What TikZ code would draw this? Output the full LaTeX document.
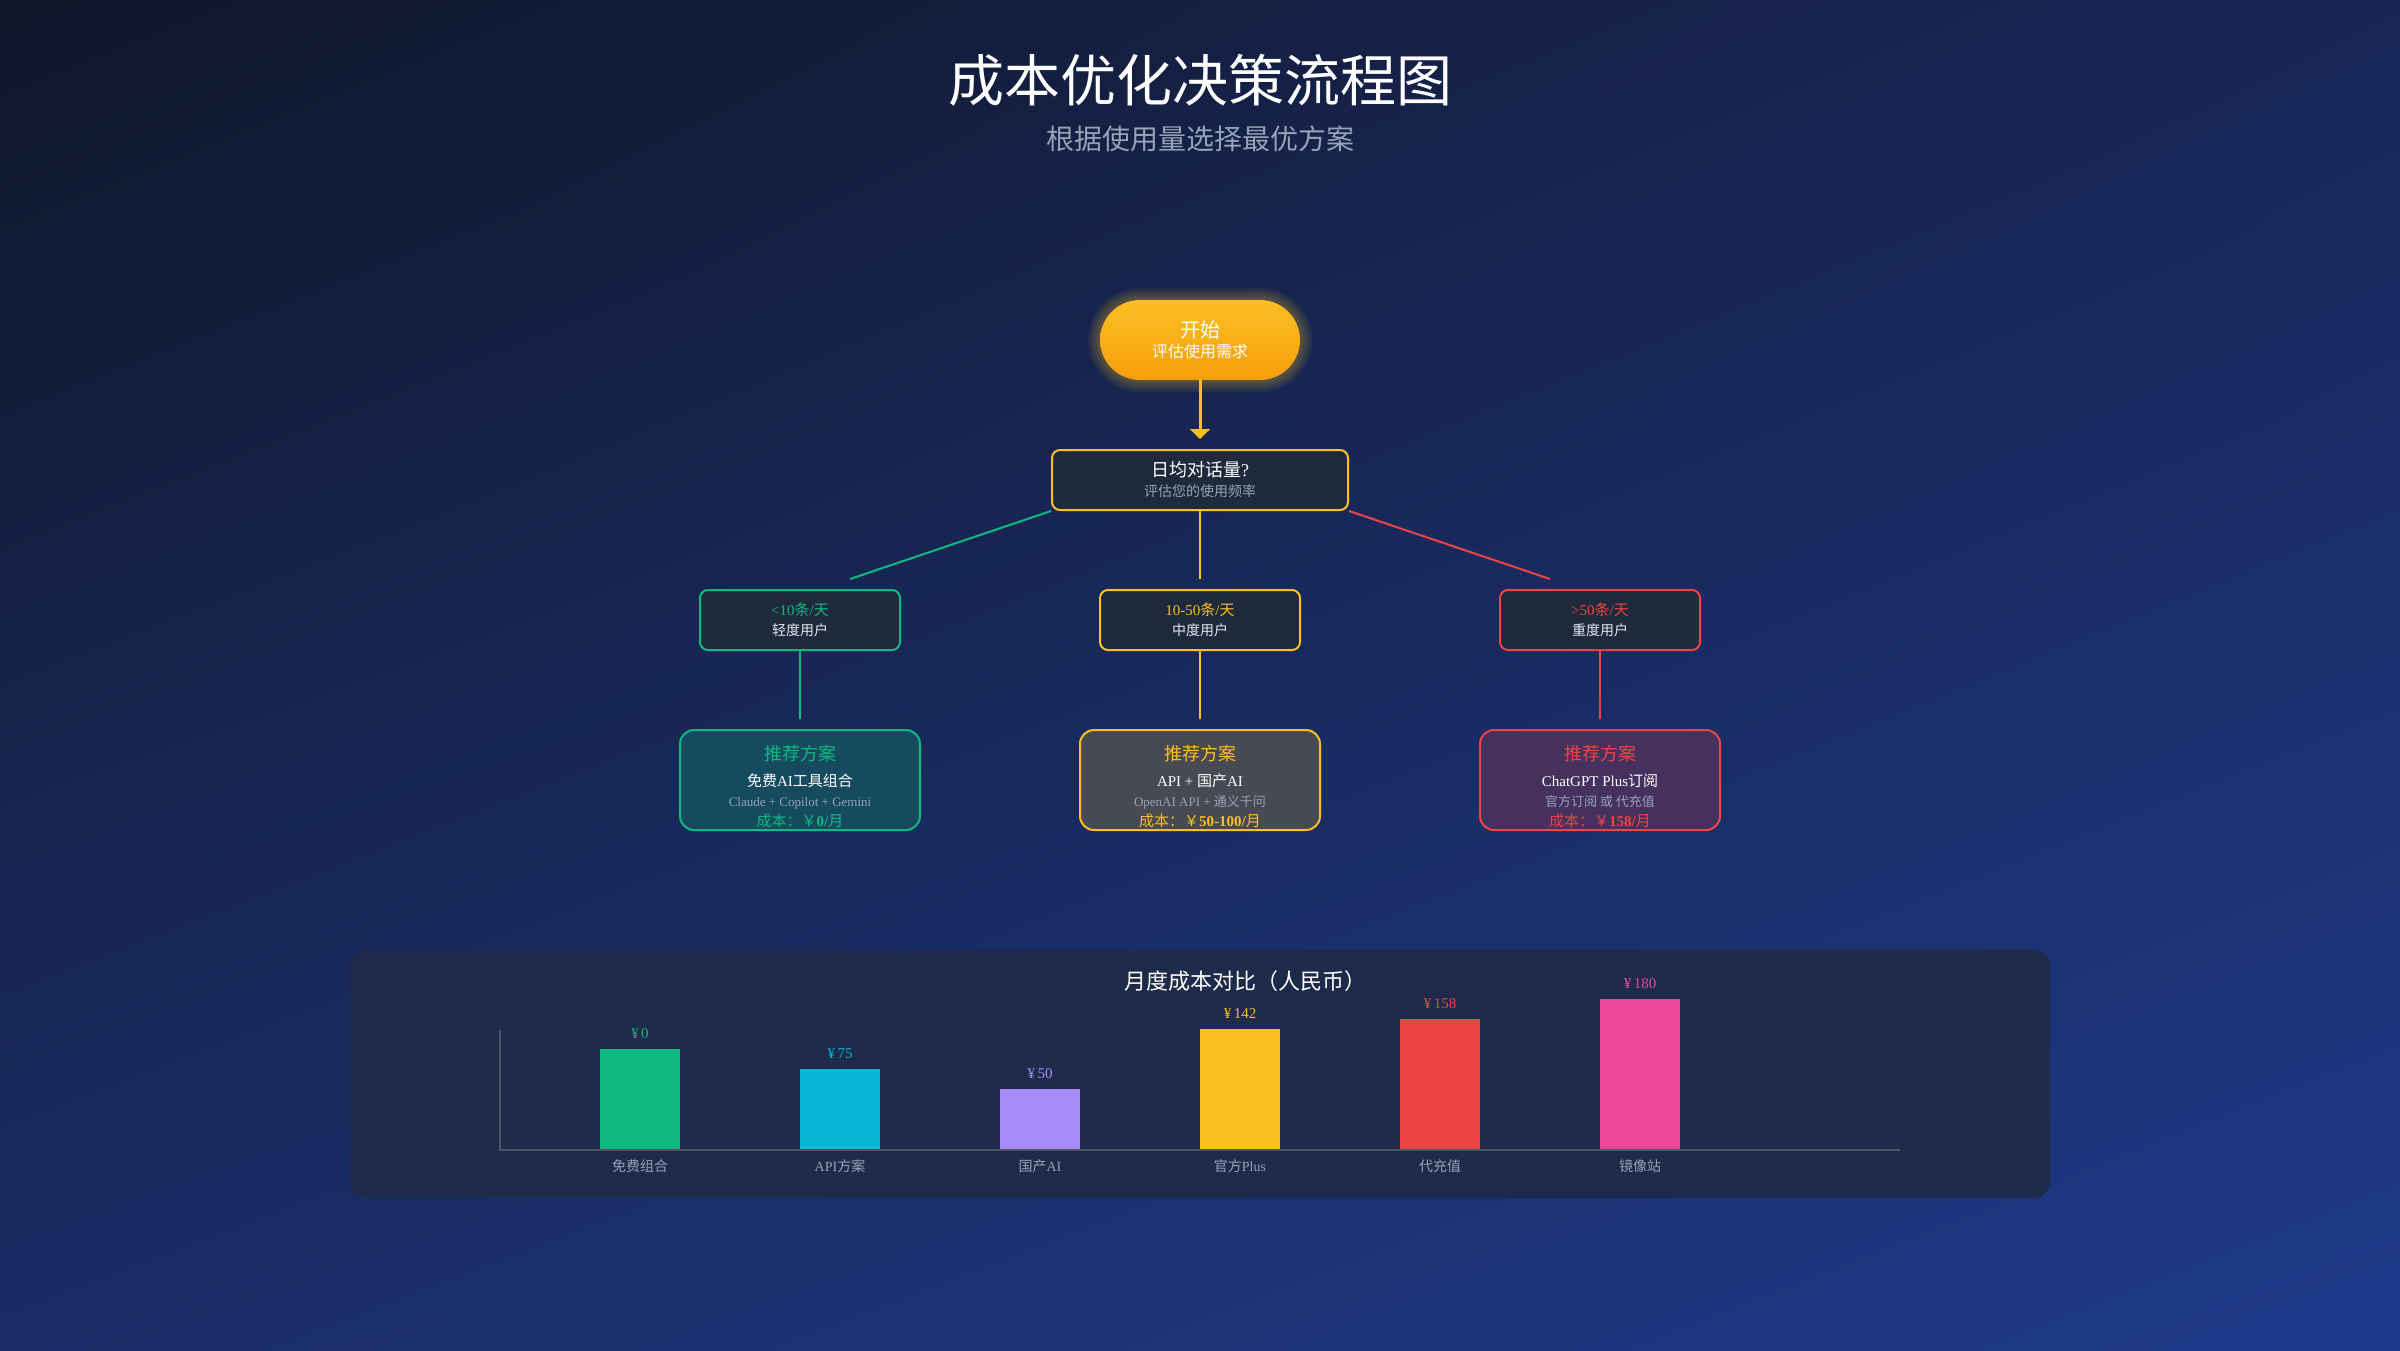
\documentclass[tikz,border=0pt]{standalone}
\usepackage{fontspec}
\setmainfont{Liberation Serif}
\newfontfamily\cjk{Noto Sans CJK SC}
\usetikzlibrary{positioning,arrows.meta,shadings}
\definecolor{amber}{HTML}{FBBF24}
\definecolor{tangerine}{HTML}{F59E0B}
\definecolor{emerald}{HTML}{10B981}
\definecolor{crimson}{HTML}{EF4444}
\definecolor{skyteal}{HTML}{06B6D4}
\definecolor{lavender}{HTML}{A78BFA}
\definecolor{rosepink}{HTML}{EC4899}
\definecolor{slatebox}{HTML}{1E293B}
\definecolor{mistgray}{HTML}{94A3B8}
\definecolor{paletext}{HTML}{E2E8F0}
\definecolor{panelblue}{HTML}{1D2A4A}
\definecolor{axisgray}{HTML}{4B5563}
\definecolor{greenfill}{HTML}{164A5E}
\definecolor{amberfill}{HTML}{474A53}
\definecolor{redfill}{HTML}{45305E}
\definecolor{nightblue}{HTML}{0F172A}
\definecolor{royalblue}{HTML}{1E3A8A}
\definecolor{midblue}{HTML}{182657}
\definecolor{deepblue}{HTML}{1A2C66}

% han characters go to the CJK face, the rest stays serif
\XeTeXinterchartokenstate=1
\newXeTeXintercharclass\hanclass
\newcount\hanchar
\def\hanrange#1#2{\hanchar=#1
  \loop\XeTeXcharclass\hanchar=\hanclass
    \advance\hanchar by 1
  \ifnum\hanchar<#2 \repeat}
\hanrange{"3000}{"3040}
\hanrange{"4E00}{"A000}
\hanrange{"FF00}{"FFF0}
\XeTeXinterchartoks 0 \hanclass = {\cjk}
\XeTeXinterchartoks 4095 \hanclass = {\cjk}
\XeTeXinterchartoks \hanclass 0 = {\rmfamily}
\XeTeXinterchartoks 4095 0 = {\rmfamily}

\begin{document}
\begin{tikzpicture}[x=1pt, y=-1pt, node distance = 140pt and 400pt, on grid,
    every node/.style={text=white, align=center, inner sep=0pt},
    tierbox/.style={draw=#1, line width=2pt, rounded corners=8pt, fill=slatebox,
      minimum width=200pt, minimum height=60pt, font=\fontsize{14}{20}\selectfont},
    planbox/.style={draw=#1, line width=2pt, rounded corners=14pt,
      minimum width=240pt, minimum height=100pt, font=\fontsize{15}{20}\selectfont},
    linkline/.style={draw=#1, line width=2pt}]
  \useasboundingbox (0,0) rectangle (2400,1350);
  \shade[upper left=nightblue, upper right=midblue, lower left=deepblue, lower right=royalblue]
    (0,0) rectangle (2400,1350);

  \node[font=\fontsize{56}{60}\selectfont] (title) at (1200,80) {成本优化决策流程图};
  \node[text=mistgray, font=\fontsize{28}{30}\selectfont] (subtitle) at (1200,139) {根据使用量选择最优方案};

  % glow round the start pill
  \foreach \g in {3,6,9,12}
    \fill[amber, opacity=.08, rounded corners=40pt+\g pt] (1100-\g,300-\g) rectangle (1300+\g,380+\g);
  \node[top color=amber, bottom color=tangerine, rounded corners=40pt, minimum width=200pt,
    minimum height=80pt, font=\fontsize{16}{20.5}\selectfont] (start) at (1200,340)
    {{\fontsize{20}{21}\selectfont 开始}\\评估使用需求};
  \node[tierbox=amber, minimum width=296pt, below=of start] (dec)
    {{\fontsize{18}{21}\selectfont 日均对话量?}\\{\color{mistgray}评估您的使用频率}};

  \node[tierbox=emerald, below left=of dec] (light)
    {{\fontsize{15}{20}\selectfont\color{emerald}<10条/天}\\{\color{paletext}轻度用户}};
  \node[tierbox=amber, below=of dec] (medium)
    {{\fontsize{15}{20}\selectfont\color{amber}10-50条/天}\\{\color{paletext}中度用户}};
  \node[tierbox=crimson, below right=of dec] (heavy)
    {{\fontsize{15}{20}\selectfont\color{crimson}>50条/天}\\{\color{paletext}重度用户}};

  \node[planbox=emerald, fill=greenfill, below=160pt of light] (lightplan)
    {\rule{0pt}{28pt}{\fontsize{18}{20}\selectfont\color{emerald}推荐方案}\\[6pt]免费AI工具组合\\
     {\fontsize{13}{20}\selectfont\color{mistgray}Claude + Copilot + Gemini}\\
     {\color{emerald}成本：￥\textbf{0/}月}};
  \node[planbox=amber, fill=amberfill, below=160pt of medium] (mediumplan)
    {\rule{0pt}{28pt}{\fontsize{18}{20}\selectfont\color{amber}推荐方案}\\[6pt]API + 国产AI\\
     {\fontsize{13}{20}\selectfont\color{mistgray}OpenAI API + 通义千问}\\
     {\color{amber}成本：￥\textbf{50-100/}月}};
  \node[planbox=crimson, fill=redfill, below=160pt of heavy] (heavyplan)
    {\rule{0pt}{28pt}{\fontsize{18}{20}\selectfont\color{crimson}推荐方案}\\[6pt]ChatGPT Plus订阅\\
     {\fontsize{13}{20}\selectfont\color{mistgray}官方订阅 或 代充值}\\
     {\color{crimson}成本：￥\textbf{158/}月}};

  \coordinate (lightin) at ([xshift=50pt, yshift=10pt]light.north);
  \coordinate (mediumin) at ([yshift=10pt]medium.north);
  \coordinate (heavyin) at ([xshift=-50pt, yshift=10pt]heavy.north);
  \draw[amber, line width=3pt, -{Triangle[width=20pt, length=10pt]}, shorten >=10pt] (start) -- (dec);
  \draw[linkline=emerald] (dec.south west) -- (lightin);
  \draw[linkline=amber] (dec) -- (mediumin);
  \draw[linkline=crimson] (dec.south east) -- (heavyin);
  \draw[linkline=emerald, shorten >=10pt] (light) -- (lightplan);
  \draw[linkline=amber, shorten >=10pt] (medium) -- (mediumplan);
  \draw[linkline=crimson, shorten >=10pt] (heavy) -- (heavyplan);

  % monthly cost chart
  \fill[panelblue, rounded corners=16pt] (350,950) rectangle (2050,1198);
  \node[font=\fontsize{22}{24}\selectfont] (charttitle) at (1245,981) {月度成本对比（人民币）};
  \draw[axisgray, line width=2pt] (500,1030) -- (500,1150) -- (1900,1150);
  \foreach \cx/\h/\col/\val/\lab [count=\i] in {640/100/emerald/0/免费组合, 840/80/skyteal/75/API方案,
      1040/60/lavender/50/国产AI, 1240/120/amber/142/官方Plus, 1440/130/crimson/158/代充值,
      1640/150/rosepink/180/镜像站}{
    \node[fill=\col, minimum width=80pt, minimum height=\h pt, anchor=south] (bar\i) at (\cx,1149) {};
    \node[text=\col, font=\fontsize{15}{16}\selectfont] (val\i) at ([yshift=15pt]bar\i.north) {¥\,\val};
    \node[text=mistgray, font=\fontsize{14}{16}\selectfont] (cat\i) at (\cx,1166) {\lab};
  }
\end{tikzpicture}
\end{document}
